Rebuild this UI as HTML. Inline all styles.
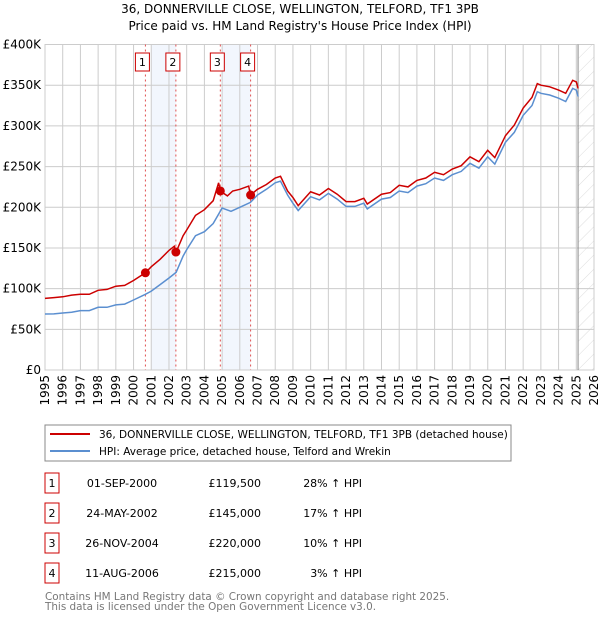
<!DOCTYPE html>
<html><head><meta charset="utf-8"><style>
body{margin:0;background:#fff;font-family:"DejaVu Sans","Liberation Sans",sans-serif;}
svg text{font-family:"DejaVu Sans","Liberation Sans",sans-serif;}
</style></head><body>
<svg id="chart" width="600" height="620" viewBox="0 0 600 620" xmlns="http://www.w3.org/2000/svg">
<defs><pattern id="hatch" width="10" height="10" patternUnits="userSpaceOnUse" patternTransform="rotate(45)"><line x1="0" y1="0" x2="0" y2="10" stroke="#d4d4d4" stroke-width="0.8"/></pattern></defs>
<text x="300" y="13" text-anchor="middle" font-size="12">36, DONNERVILLE CLOSE, WELLINGTON, TELFORD, TF1 3PB</text>
<text x="300" y="30" text-anchor="middle" font-size="12">Price paid vs. HM Land Registry's House Price Index (HPI)</text>
<g id="plot"></g>
<g>
<rect x="45" y="425" width="466" height="36" fill="#fff" stroke="#888" stroke-width="1"/>
<line x1="50" y1="434" x2="90" y2="434" stroke="#cc0000" stroke-width="2"/>
<text x="99" y="438" font-size="10.5">36, DONNERVILLE CLOSE, WELLINGTON, TELFORD, TF1 3PB (detached house)</text>
<line x1="50" y1="451" x2="90" y2="451" stroke="#5b8fd0" stroke-width="2"/>
<text x="99" y="455" font-size="10.5">HPI: Average price, detached house, Telford and Wrekin</text>
</g>
<g id="table" font-size="11"></g>
<text x="45" y="600" font-size="10.4" fill="#777">Contains HM Land Registry data © Crown copyright and database right 2025.</text>
<text x="45" y="610" font-size="10.4" fill="#777">This data is licensed under the Open Government Licence v3.0.</text>
</svg>
<script>
const hpiYears=[1995,1995.5,1996,1996.5,1997,1997.5,1998,1998.5,1999,1999.5,2000,2000.67,2001,2001.5,2002,2002.4,2002.8,2003,2003.5,2004,2004.5,2005,2005.5,2006,2006.6,2007,2007.5,2008,2008.3,2008.7,2009,2009.3,2010,2010.5,2011,2011.5,2012,2012.5,2013,2013.2,2014,2014.5,2015,2015.5,2016,2016.5,2017,2017.5,2018,2018.5,2019,2019.5,2020,2020.4,2021,2021.5,2022,2022.5,2022.8,2023,2023.5,2024,2024.4,2024.8,2025,2025.1];
const hpiValues=[68.8,69,70,71,73,73,77,77,80,81,86,93,97,105,113,120,140,148,165,170,180,199,195,200,206,215,222,230,232,215,205,196,213,209,217,210,201,201,205,198,210,212,220,218,226,229,236,233,240,244,254,248,262,253,280,292,313,325,342,340,338,334,330,346,344,336];
const ppYears=[1995,1995.5,1996,1996.5,1997,1997.5,1998,1998.5,1999,1999.5,2000,2000.67,2001,2001.5,2002,2002.3,2002.4,2002.8,2003,2003.5,2004,2004.5,2004.8,2004.9,2005.3,2005.6,2006,2006.5,2006.6,2007,2007.5,2008,2008.3,2008.7,2009,2009.3,2010,2010.5,2011,2011.5,2012,2012.5,2013,2013.2,2014,2014.5,2015,2015.5,2016,2016.5,2017,2017.5,2018,2018.5,2019,2019.5,2020,2020.4,2021,2021.5,2022,2022.5,2022.8,2023,2023.5,2024,2024.4,2024.8,2025,2025.1];
const ppValues=[88,89,90,92,93,93,98,99,103,104,110,119.5,127,136,147,152,145,165,172,190,197,208,230,220,214,220,222,226,215,222,228,236,238,220,212,202,219,215,223,216,207,207,211,204,216,218,227,225,233,236,243,240,247,251,262,256,270,261,288,301,322,335,352,350,348,344,340,356,354,346];
const sales=[{n:"1",t:2000.67,v:119.5,d:"01-SEP-2000",p:"£119,500",h:"28% ↑ HPI"},{n:"2",t:2002.39,v:145,d:"24-MAY-2002",p:"£145,000",h:"17% ↑ HPI"},{n:"3",t:2004.9,v:220,d:"26-NOV-2004",p:"£220,000",h:"10% ↑ HPI"},{n:"4",t:2006.61,v:215,d:"11-AUG-2006",p:"£215,000",h:"3% ↑ HPI"}];
const yTicks=[0,50,100,150,200,250,300,350,400];
const yTickLabels=["£0","£50K","£100K","£150K","£200K","£250K","£300K","£350K","£400K"];
const xTicks=[1995,1996,1997,1998,1999,2000,2001,2002,2003,2004,2005,2006,2007,2008,2009,2010,2011,2012,2013,2014,2015,2016,2017,2018,2019,2020,2021,2022,2023,2024,2025,2026];
const bands=[[2001,2002.4],[2005,2006.61]];
const NS="http://www.w3.org/2000/svg";
const X0=45,X1=594,Y0=370,Y1=44.5;
const xs=t=>X0+(t-1995)/31*(X1-X0);
const ys=v=>Y0-v/400*(Y0-Y1);
const plot=document.getElementById('plot');
function mk(tag,attrs,parent){const e=document.createElementNS(NS,tag);for(const k in attrs)e.setAttribute(k,attrs[k]);(parent||plot).appendChild(e);return e;}
bands.forEach(b=>{const r=mk('rect',{x:xs(b[0]),y:Y1,width:xs(b[1])-xs(b[0]),height:Y0-Y1,fill:'#f2f6fd'});

});
const hx=xs(2025.1);
const hr=mk('rect',{x:hx,y:Y1,width:X1-hx,height:Y0-Y1,fill:'url(#hatch)'});


yTicks.forEach((v,i)=>{const l=mk('line',{x1:X0,x2:X1,y1:ys(v),y2:ys(v),stroke:'#ccc','stroke-width':1});


const t=mk('text',{x:X0-4,y:ys(v)+4,'text-anchor':'end','font-size':'12'});t.textContent=yTickLabels[i];

});
xTicks.forEach(y=>{const l=mk('line',{x1:xs(y),x2:xs(y),y1:Y1,y2:Y0,stroke:'#ccc','stroke-width':1});


const t=mk('text',{x:0,y:0,'text-anchor':'end','font-size':'12',transform:`translate(${xs(y)+4},${Y0+5}) rotate(-90)`});t.textContent=y;

});
mk('rect',{x:X0,y:Y1,width:X1-X0,height:Y0-Y1,fill:'none',stroke:'#ccc'});
const vl=mk('line',{x1:hx,x2:hx,y1:Y1,y2:Y0,stroke:'#888','stroke-width':1});


sales.forEach(s=>{const l=mk('line',{x1:xs(s.t),x2:xs(s.t),y1:Y1,y2:Y0,stroke:'#e05050','stroke-width':1,'stroke-dasharray':'2,3'});


const g=mk('g',{});


mk('rect',{x:xs(s.t)-10,y:53,width:14,height:18,fill:'#fff',stroke:'#cc0000'},g);
const t=mk('text',{x:xs(s.t)-3,y:66,'text-anchor':'middle','font-size':'11'},g);t.textContent=s.n;});
function line(xa,va,color,name){const d=xa.map((t,i)=>(i?'L':'M')+xs(t).toFixed(1)+','+ys(va[i]).toFixed(1)).join('');
const p=mk('path',{d:d,fill:'none',stroke:color,'stroke-width':1.5});

}
line(hpiYears,hpiValues,'#5b8fd0','hpi-line');
line(ppYears,ppValues,'#cc0000','price-paid-line');
sales.forEach(s=>{const c=mk('circle',{cx:xs(s.t),cy:ys(s.v),r:4.5,fill:'#cc0000'});

});
const tb=document.getElementById('table');
sales.forEach((s,i)=>{const y=483+i*30;
const r=mk('rect',{x:45,y:y-10,width:14,height:20,fill:'#fff',stroke:'#cc0000'},tb);


[[52,'middle',s.n],[122,'middle',s.d],[261,'end',s.p],[362,'end',s.h]].forEach(c=>{const t=mk('text',{x:c[0],y:y+4,'text-anchor':c[1]},tb);t.textContent=c[2];

});});
</script>
</body></html>
